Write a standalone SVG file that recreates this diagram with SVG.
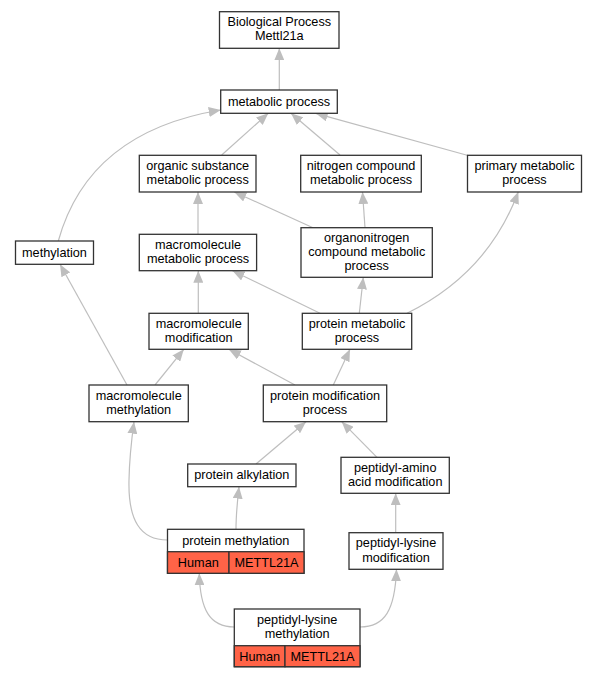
<svg xmlns="http://www.w3.org/2000/svg" width="596" height="677" viewBox="0 0 596 677">
<defs>
<marker id="ah" viewBox="0 0 12 10" refX="12" refY="5" markerWidth="12" markerHeight="10" markerUnits="userSpaceOnUse" orient="auto">
<path d="M0,0 L12,5 L0,10 z" fill="#bebebe"/>
</marker>
<style>
.n rect{fill:#fff;stroke:#333;stroke-width:1.3}
.n rect.hit{fill:#ff6347}
text{font-family:"Liberation Sans",Arial,sans-serif;font-size:12.7px;fill:#000;text-anchor:middle}
#edges path{fill:none;stroke:#bebebe;stroke-width:1.2;marker-end:url(#ah)}
</style>
</defs>
<rect width="596" height="677" fill="#fff"/>
<g id="edges">
<path d="M279.3,90 L279.3,48.3"/>
<path d="M221.7,155 L268.3,113.3"/>
<path d="M340,155 L291,113.3"/>
<path d="M468,155.5 L315.7,113.3"/>
<path d="M58.3,241 C78,170 130,125 220.7,110"/>
<path d="M198,234.3 L198,192"/>
<path d="M313,227.7 L234.3,192"/>
<path d="M365,227.7 L362.5,192"/>
<path d="M198.3,313.3 L198.3,270.7"/>
<path d="M320,313.3 L232.5,270.7"/>
<path d="M359.3,313.3 L363.3,277.3"/>
<path d="M407,313.3 C450,292 495,255 518.3,191.8"/>
<path d="M127,385 L60,264.3"/>
<path d="M155,385 L183.8,349.3"/>
<path d="M295,385 L228.8,349.3"/>
<path d="M333.3,385 L350,349.3"/>
<path d="M256,464 L306,421.7"/>
<path d="M377,457.3 L341.7,421.7"/>
<path d="M236,529.3 C236,515 237.5,500 239,486.7"/>
<path d="M167.5,540 C140,540 128,520 129,480 C129.5,455 131.5,440 134,421.7"/>
<path d="M395.7,532.7 L395.7,493.3"/>
<path d="M234.3,627 C210,627 200,610 199.3,573.3"/>
<path d="M360,627 C385,627 395,610 396.5,569.3"/>
</g>
<g id="n1" class="n"><rect x="219.5" y="11.7" width="119.5" height="36.6"/><text x="279.3" y="26">Biological Process<tspan x="279.3" dy="14.3">Mettl21a</tspan></text></g>
<g id="n2" class="n"><rect x="220.7" y="90" width="116.6" height="23.3"/><text x="279" y="105.5">metabolic process</text></g>
<g id="n3" class="n"><rect x="139.3" y="155.3" width="116.7" height="36.7"/><text x="197.7" y="170.1">organic substance<tspan x="197.7" dy="14.3">metabolic process</tspan></text></g>
<g id="n4" class="n"><rect x="300.7" y="155.3" width="120.6" height="36.7"/><text x="361" y="170.1">nitrogen compound<tspan x="361" dy="14.3">metabolic process</tspan></text></g>
<g id="n5" class="n"><rect x="467.5" y="155.3" width="114" height="36.7"/><text x="524.5" y="170.1">primary metabolic<tspan x="524.5" dy="14.3">process</tspan></text></g>
<g id="n6" class="n"><rect x="15.5" y="241" width="78" height="23.3"/><text x="54.5" y="256.5">methylation</text></g>
<g id="n7" class="n"><rect x="139.3" y="234.3" width="117.3" height="36.4"/><text x="198" y="248.9">macromolecule<tspan x="198" dy="14.3">metabolic process</tspan></text></g>
<g id="n8" class="n"><rect x="301" y="227.7" width="131.3" height="49.6"/><text x="366.7" y="241.5">organonitrogen<tspan x="366.7" dy="14.3">compound metabolic</tspan><tspan x="366.7" dy="14.3">process</tspan></text></g>
<g id="n9" class="n"><rect x="149" y="313.3" width="99.3" height="36"/><text x="198.7" y="327.7">macromolecule<tspan x="198.7" dy="14.3">modification</tspan></text></g>
<g id="n10" class="n"><rect x="302.3" y="313.3" width="109.4" height="36"/><text x="357" y="327.7">protein metabolic<tspan x="357" dy="14.3">process</tspan></text></g>
<g id="n11" class="n"><rect x="89" y="385" width="99.3" height="36.7"/><text x="138.7" y="399.7">macromolecule<tspan x="138.7" dy="14.3">methylation</tspan></text></g>
<g id="n12" class="n"><rect x="263.3" y="385" width="123.4" height="36.7"/><text x="325" y="399.7">protein modification<tspan x="325" dy="14.3">process</tspan></text></g>
<g id="n13" class="n"><rect x="187.7" y="464" width="108.3" height="22.7"/><text x="241.8" y="479.3">protein alkylation</text></g>
<g id="n14" class="n"><rect x="341" y="457.3" width="108.3" height="36"/><text x="395.2" y="471.7">peptidyl-amino<tspan x="395.2" dy="14.3">acid modification</tspan></text></g>
<g id="n15" class="n"><rect x="167.5" y="529.3" width="136.5" height="44"/><rect class="hit" x="167.5" y="551.7" width="61.5" height="21.6"/><rect class="hit" x="229" y="551.7" width="75" height="21.6"/><text x="235.8" y="544.5">protein methylation</text><text x="198.3" y="567">Human</text><text x="266.5" y="567">METTL21A</text></g>
<g id="n16" class="n"><rect x="349" y="532.7" width="94" height="36.6"/><text x="396" y="547.4">peptidyl-lysine<tspan x="396" dy="14.3">modification</tspan></text></g>
<g id="n17" class="n"><rect x="234.3" y="609" width="125.7" height="57.7"/><rect class="hit" x="234.3" y="645.7" width="50.7" height="21"/><rect class="hit" x="285" y="645.7" width="75" height="21"/><text x="297.2" y="623.7">peptidyl-lysine<tspan x="297.2" dy="14.3">methylation</tspan></text><text x="259.7" y="660.7">Human</text><text x="322.5" y="660.7">METTL21A</text></g>
</svg>
